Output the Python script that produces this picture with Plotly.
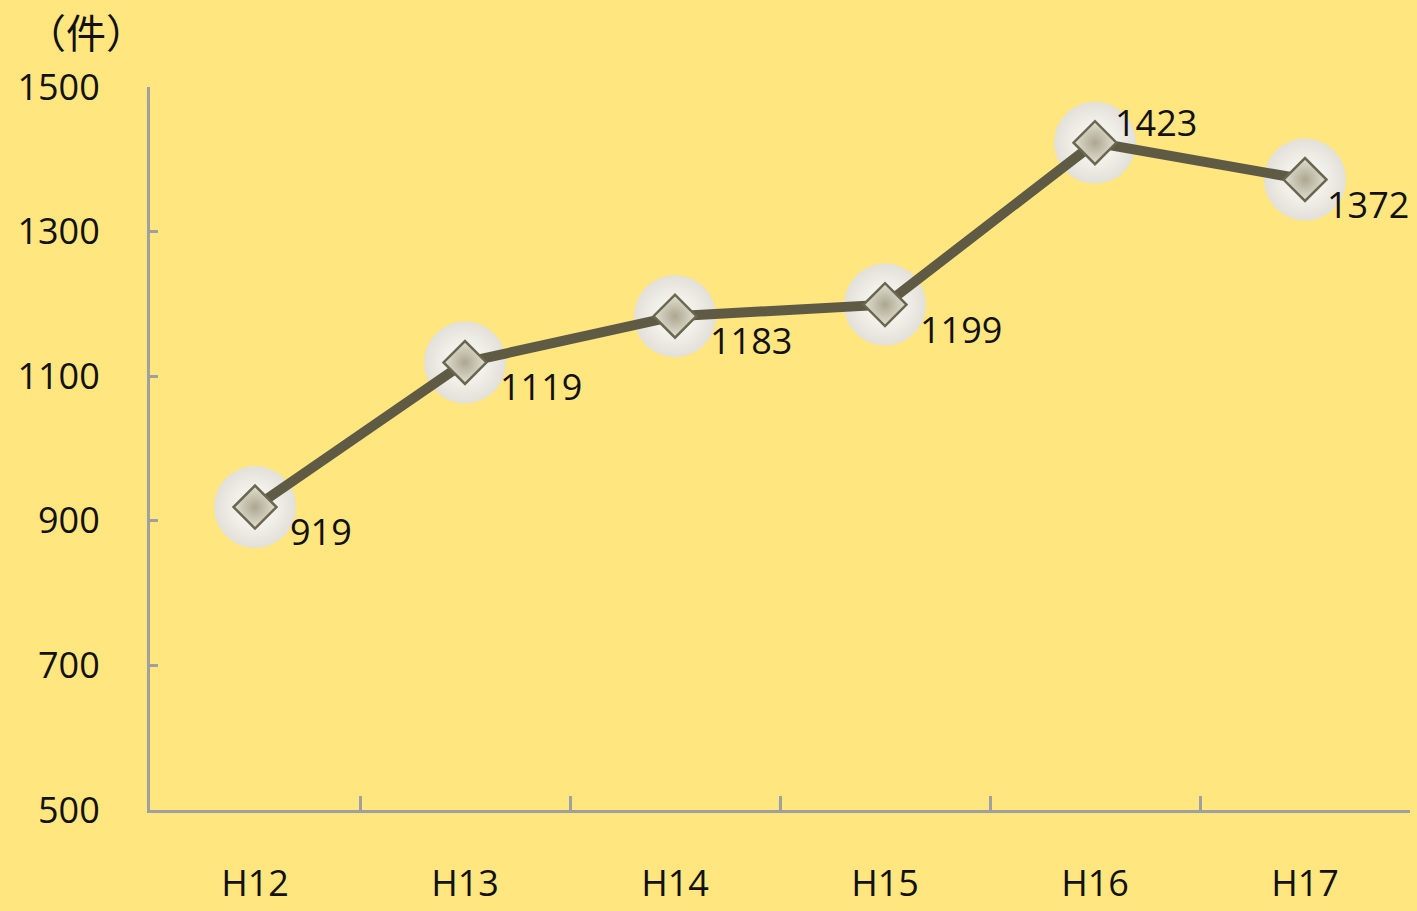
import plotly.graph_objects as go

categories = ["H12", "H13", "H14", "H15", "H16", "H17"]
values = [919, 1119, 1183, 1199, 1423, 1372]
y_ticks = [500, 700, 900, 1100, 1300, 1500]

BG = "#FFE67F"
FONT = "Open Sans, Noto Sans, sans-serif"

fig = go.Figure()

# soft white halo behind markers
fig.add_trace(go.Scatter(
    x=categories, y=values, mode="markers",
    marker=dict(symbol="circle", size=82, color="#E2E0D8",
                gradient=dict(type="radial", color="#FFFFFA"),
                line=dict(width=0)),
    hoverinfo="skip", showlegend=False))

fig.add_trace(go.Scatter(
    x=categories, y=values, mode="lines+markers",
    line=dict(color="#5E5A44", width=10),
    marker=dict(symbol="diamond", size=33, color="#E4E1D4",
                gradient=dict(type="radial", color="#ABA790"),
                line=dict(color="#6A664F", width=2.5)),
    showlegend=False))

# data labels
for i, (c, v) in enumerate(zip(categories, values)):
    above = (i == 4)
    fig.add_annotation(
        x=c, y=v, text=str(v), showarrow=False,
        xanchor="left", yanchor="bottom" if above else "top",
        xshift=18 if above else (20 if i == 5 else 33),
        yshift=-6 if above else 2,
        font=dict(family=FONT, size=36, color="#111111"))

fig.add_annotation(
    xref="paper", yref="paper", x=-0.1, y=1.078, text="（件）",
    showarrow=False, xanchor="left", yanchor="middle",
    font=dict(family="Noto Sans CJK JP", size=40, color="#111111"))

fig.update_layout(
    width=1417, height=911,
    margin=dict(l=150, r=7, t=87, b=101),
    paper_bgcolor=BG, plot_bgcolor=BG,
    font=dict(family=FONT, size=36, color="#111111"),
)
fig.update_xaxes(
    type="category", range=[-0.5, 5.5], tickson="boundaries",
    ticks="inside", ticklen=14, tickwidth=3, tickcolor="#A0A0A0",
    showline=True, linecolor="#A0A0A0", linewidth=3, automargin=False,
    showgrid=False, zeroline=False, ticklabelstandoff=40,
    tickfont=dict(family=FONT, size=36, color="#111111"))
fig.update_yaxes(
    range=[500, 1500], tickvals=y_ticks, ticktext=[str(t) for t in y_ticks],
    ticks="inside", ticklen=8, tickwidth=3, tickcolor="#A0A0A0",
    showline=True, linecolor="#A0A0A0", linewidth=3, automargin=False,
    showgrid=False, zeroline=False, ticklabelstandoff=40,
    tickfont=dict(family=FONT, size=36, color="#111111"))

fig.write_html("out.html")
